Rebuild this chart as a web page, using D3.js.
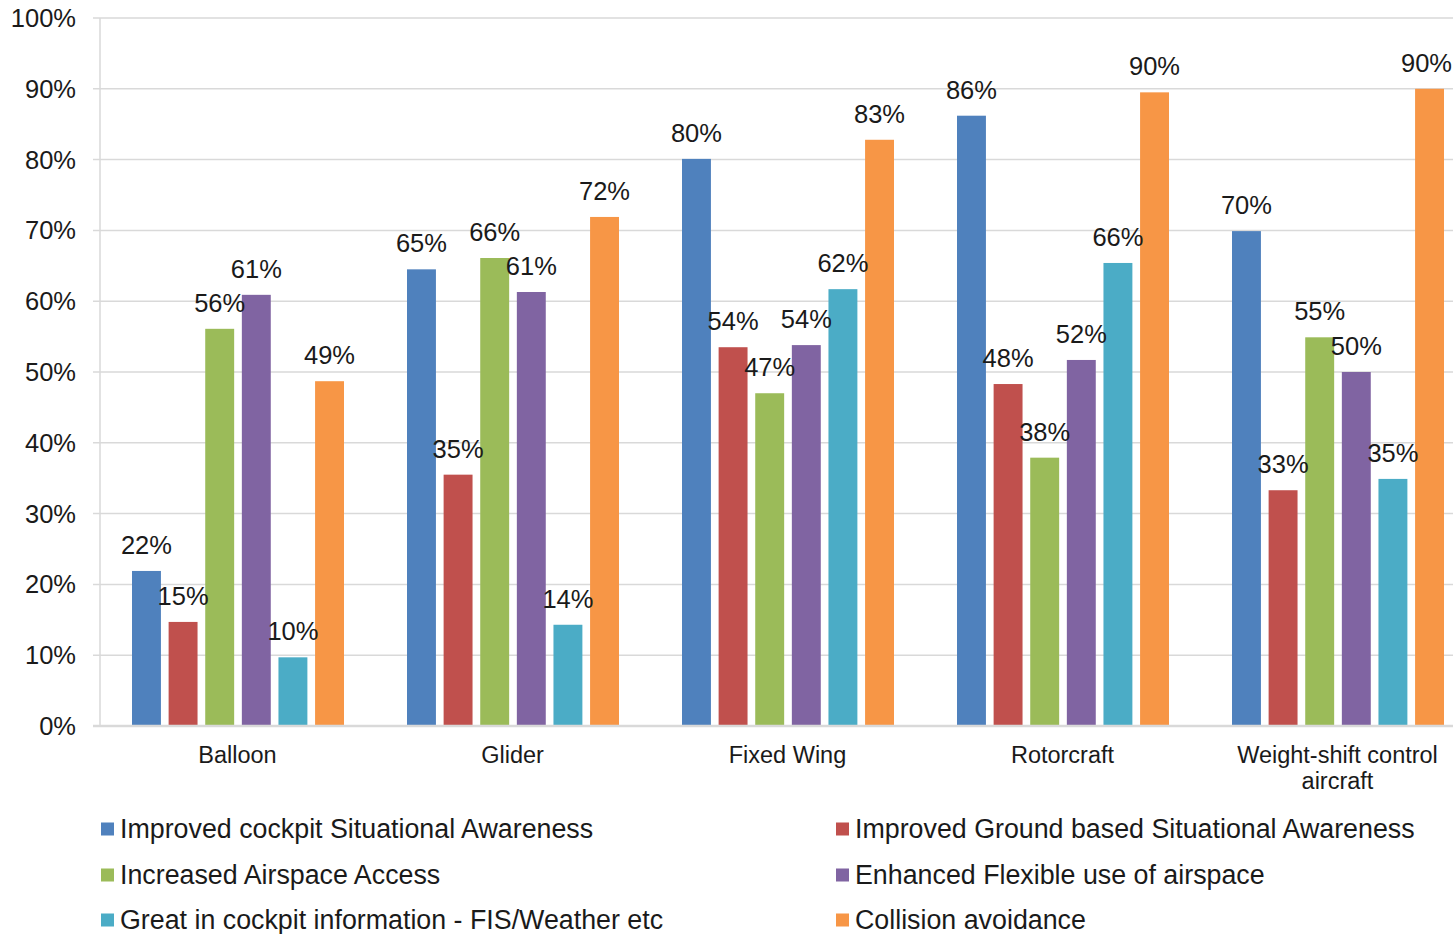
<!DOCTYPE html>
<html>
<head>
<meta charset="utf-8">
<script src="https://cdn.jsdelivr.net/npm/d3@7"></script>
<style>
  html, body { margin: 0; padding: 0; background: #fff; }
  svg { display: block; font-family: "Liberation Sans", Arial, sans-serif; }
</style>
</head>
<body>
<svg id="chart" width="1453" height="934"></svg>
<script>
const categories = ["Balloon", "Glider", "Fixed Wing", "Rotorcraft", "Weight-shift control aircraft"];
const categoryLines = [["Balloon"], ["Glider"], ["Fixed Wing"], ["Rotorcraft"], ["Weight-shift control", "aircraft"]];
const seriesNames = [
  "Improved cockpit Situational Awareness",
  "Improved Ground based Situational Awareness",
  "Increased Airspace Access",
  "Enhanced Flexible use of airspace",
  "Great in cockpit information - FIS/Weather etc",
  "Collision avoidance"
];
const seriesColors = ["#4F81BD", "#C0504D", "#9BBB59", "#8064A2", "#4BACC6", "#F79646"];
// values per series, one per category (fractions)
const improvedCockpit   = [0.219, 0.645, 0.801, 0.862, 0.699];
const improvedGround    = [0.147, 0.355, 0.535, 0.483, 0.333];
const increasedAccess   = [0.561, 0.661, 0.470, 0.379, 0.549];
const enhancedFlexible  = [0.609, 0.613, 0.538, 0.517, 0.500];
const greatInCockpit    = [0.097, 0.143, 0.617, 0.654, 0.349];
const collisionAvoid    = [0.487, 0.719, 0.828, 0.895, 0.900];
const seriesValues = [improvedCockpit, improvedGround, increasedAccess, enhancedFlexible, greatInCockpit, collisionAvoid];
const labelValues = [
  ["22%", "65%", "80%", "86%", "70%"],
  ["15%", "35%", "54%", "48%", "33%"],
  ["56%", "66%", "47%", "38%", "55%"],
  ["61%", "61%", "54%", "52%", "50%"],
  ["10%", "14%", "62%", "66%", "35%"],
  ["49%", "72%", "83%", "90%", "90%"]
];
const yTicks = [0, 0.1, 0.2, 0.3, 0.4, 0.5, 0.6, 0.7, 0.8, 0.9, 1.0];

const W = 1453;
const svg = d3.select("#chart");
const plotLeft = 100, plotTop = 18, plotBottom = 726;

const y = d3.scaleLinear().domain([0, 1]).range([plotBottom, plotTop]);
const x0 = d3.scaleBand().domain(categories).range([plotLeft, plotLeft + 275 * 5]).paddingInner(0).paddingOuter(0);
const x1 = d3.scaleBand().domain(d3.range(seriesNames.length)).range([32, 244]).paddingInner(0.21).paddingOuter(0);

// gridlines
svg.append("g").selectAll("line").data(yTicks.filter(d => d > 0)).join("line")
  .attr("x1", plotLeft - 7).attr("x2", W)
  .attr("y1", d => y(d)).attr("y2", d => y(d))
  .attr("stroke", "#d9d9d9").attr("stroke-width", 1.5);

// y axis line
svg.append("line").attr("x1", plotLeft).attr("x2", plotLeft)
  .attr("y1", plotTop).attr("y2", plotBottom)
  .attr("stroke", "#d9d9d9").attr("stroke-width", 1.5);

// y tick labels
svg.append("g").selectAll("text").data(yTicks).join("text")
  .attr("x", 76).attr("y", d => y(d))
  .attr("dy", "0.35em")
  .attr("text-anchor", "end")
  .attr("font-size", 25.5)
  .attr("fill", "#1a1a1a")
  .text(d => d3.format(".0%")(d));

// bars
const groups = svg.append("g").selectAll("g").data(categories).join("g")
  .attr("transform", d => `translate(${x0(d)},0)`);

groups.each(function(cat, ci) {
  const g = d3.select(this);
  seriesNames.forEach((s, si) => {
    const v = seriesValues[si][ci];
    g.append("rect")
      .attr("x", x1(si))
      .attr("y", y(v))
      .attr("width", x1.bandwidth())
      .attr("height", y(0) - y(v))
      .attr("fill", seriesColors[si]);
  });
  seriesNames.forEach((s, si) => {
    const v = seriesValues[si][ci];
    const t = g.append("text")
      .attr("x", x1(si) + x1.bandwidth() / 2)
      .attr("y", y(v) - 17)
      .attr("text-anchor", "middle")
      .attr("font-size", 25.5)
      .attr("fill", "#1a1a1a")
      .text(labelValues[si][ci]);
    // keep label inside the picture at the right edge
    const bb = t.node().getBBox();
    const absRight = x0(cat) + bb.x + bb.width;
    if (absRight > W - 1) {
      t.attr("x", x1(si) + x1.bandwidth() / 2 - (absRight - (W - 1)));
    }
  });
});

// zero line
svg.append("line").attr("x1", plotLeft - 7).attr("x2", W)
  .attr("y1", y(0)).attr("y2", y(0))
  .attr("stroke", "#d9d9d9").attr("stroke-width", 2.5);

// category labels
const catG = svg.append("g").selectAll("text").data(categories).join("text")
  .attr("x", d => x0(d) + x0.bandwidth() / 2)
  .attr("y", 763)
  .attr("text-anchor", "middle")
  .attr("font-size", 23.5)
  .attr("fill", "#1a1a1a");
catG.each(function(d, i) {
  const t = d3.select(this);
  categoryLines[i].forEach((line, li) => {
    t.append("tspan")
      .attr("x", x0(d) + x0.bandwidth() / 2)
      .attr("dy", li === 0 ? 0 : 26)
      .text(line);
  });
});

// legend
const legendCols = [101, 836];
const legendRows = [829, 875, 920];
const legend = svg.append("g").selectAll("g").data(seriesNames).join("g")
  .attr("transform", (d, i) => `translate(${legendCols[i % 2]},${legendRows[Math.floor(i / 2)]})`);
legend.append("rect")
  .attr("x", 0).attr("y", -6.5).attr("width", 13).attr("height", 13)
  .attr("fill", (d, i) => seriesColors[i]);
legend.append("text")
  .attr("x", 19).attr("y", 0).attr("dy", "0.35em")
  .attr("font-size", 26.8)
  .attr("fill", "#1a1a1a")
  .text(d => d);
</script>
</body>
</html>
